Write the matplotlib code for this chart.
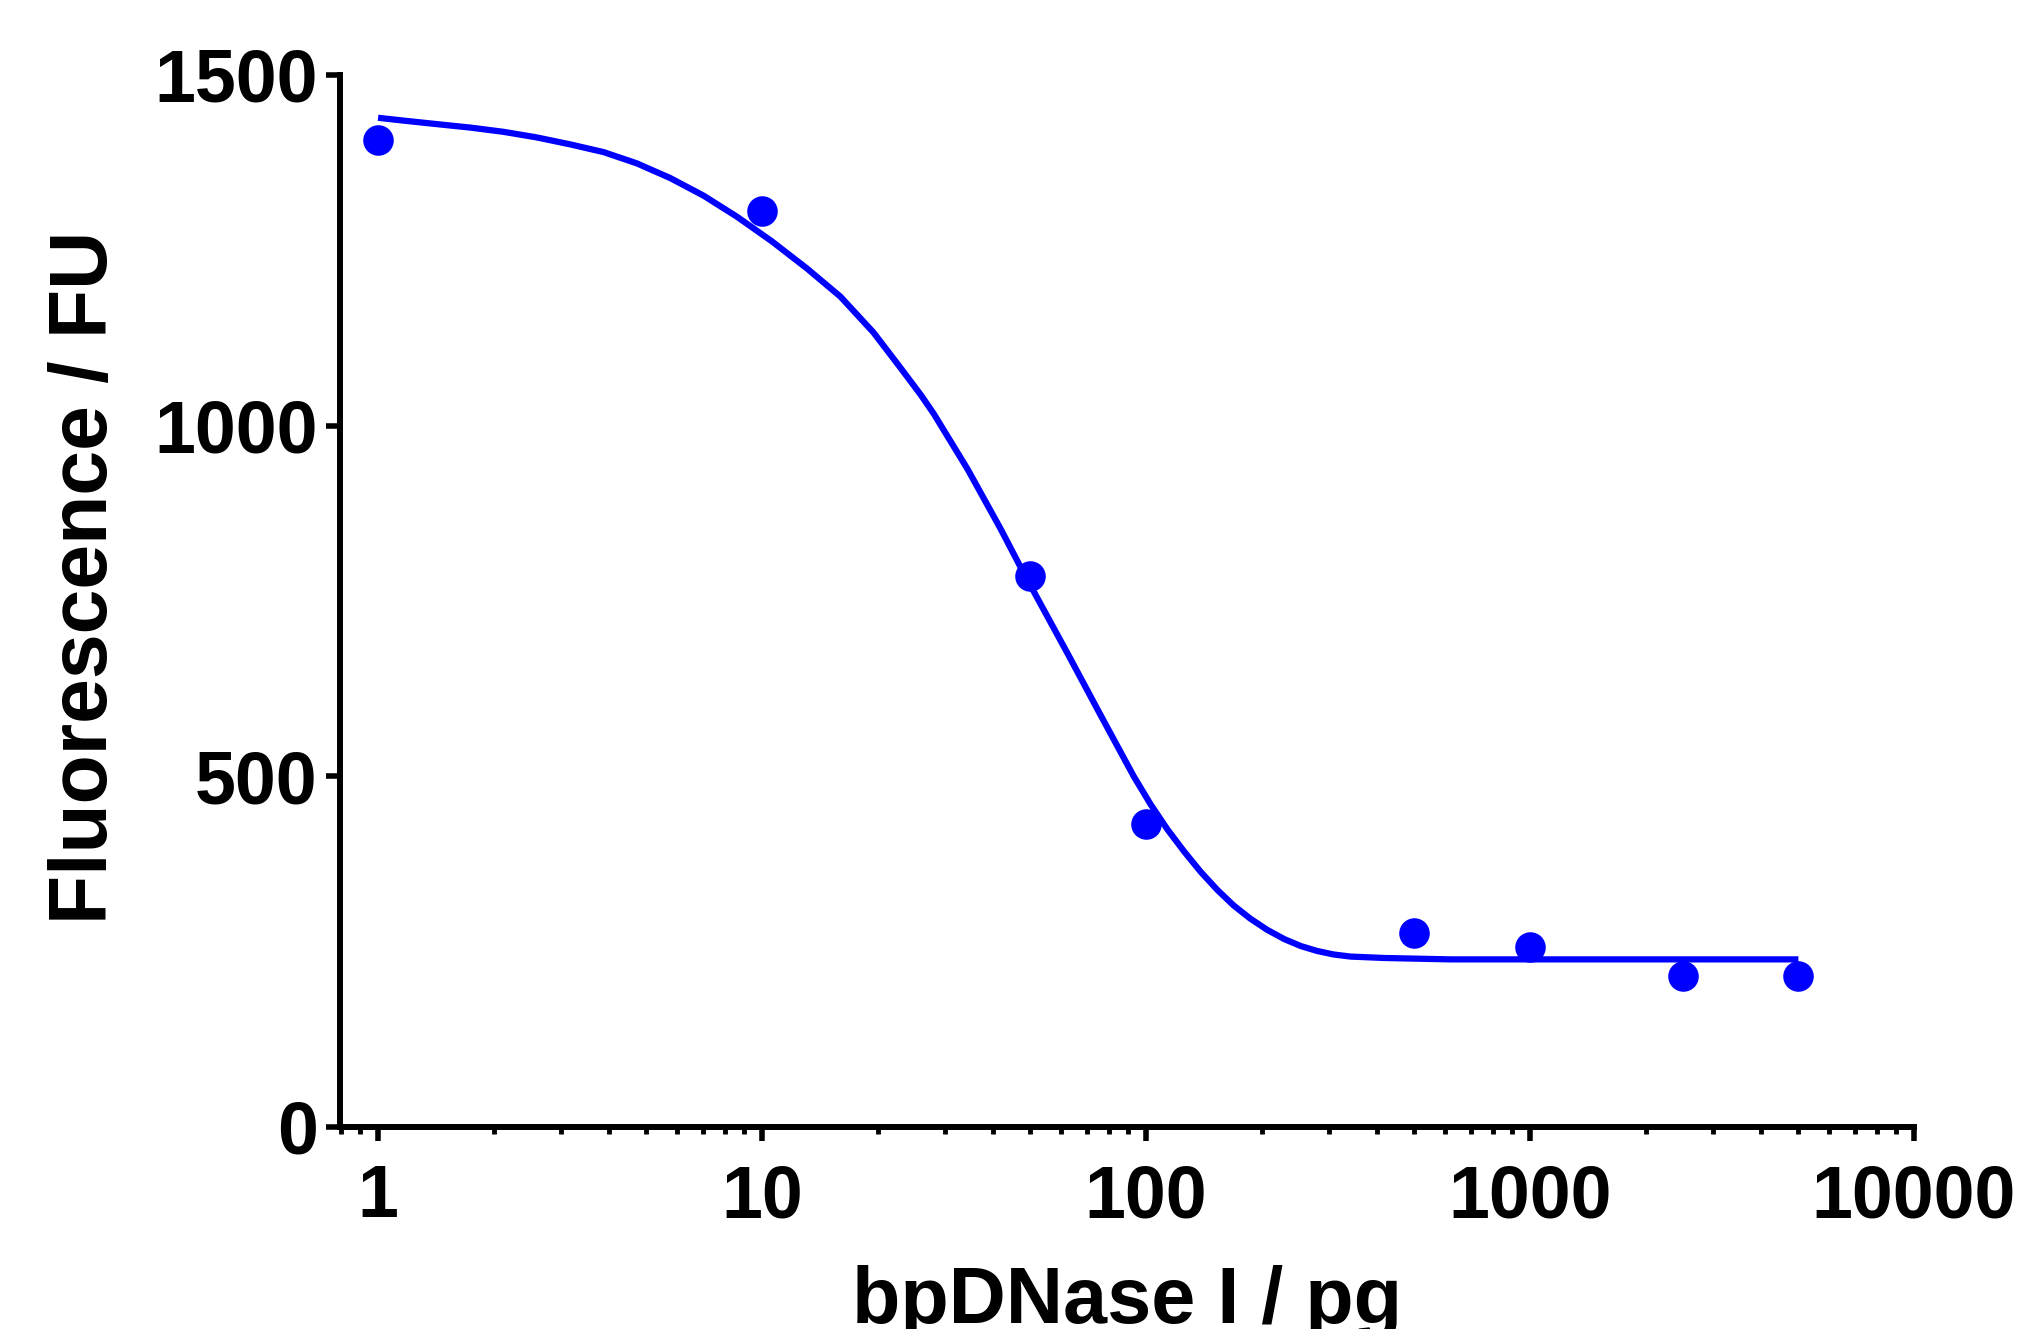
# Curva dosis-respuesta: fluorescencia frente a bpDNase I (eje x logaritmico)

import matplotlib.pyplot as plt
from matplotlib.ticker import FixedLocator, FixedFormatter, LogLocator, NullFormatter

plt.rcParams['font.family'] = ['Liberation Sans', 'DejaVu Sans']
plt.rcParams['font.weight'] = 'bold'

# puntos medidos
dose = [1, 10, 50, 100, 500, 1000, 2500, 5000]
fluor = [1408, 1306, 786, 432, 276, 256, 216, 215]

# curva ajustada
fit_x = [1, 1.164, 1.42, 1.74, 2.12, 2.59, 3.17, 3.87, 4.72, 5.77, 7.04, 8.6, 10.6,
         13.1, 16.0, 19.5, 22.9, 25.9, 28, 34.3, 41.8, 48, 62.5, 76.2, 92.9, 102.8,
         113.8, 125.6, 138.7, 153.4, 169, 187, 207, 229, 253, 279, 308, 341, 417,
         622, 1000, 2500, 5000]
fit_y = [1439, 1435, 1430, 1425, 1419, 1411, 1401, 1390, 1374, 1353, 1328, 1298, 1263,
         1224, 1184, 1133, 1083, 1044, 1017, 938, 853, 790, 675, 587, 500, 460,
         424, 393, 364, 338, 316, 297, 281, 268, 258, 251, 246, 243, 241,
         239, 239, 239, 239]

# ejes
x_ticks = [1, 10, 100, 1000, 10000]
x_labels = ['1', '10', '100', '1000', '10000']
y_ticks = [0, 500, 1000, 1500]

blue = '#0000FF'

fig = plt.figure(figsize=(20.28, 13.29), dpi=100)
ax = fig.add_axes([340/2028, 1 - 1127/1329, (1914 - 340)/2028, (1127 - 75)/1329])

ax.plot(fit_x, fit_y, color=blue, linewidth=4.5, solid_capstyle='butt',
        solid_joinstyle='round', zorder=2)
ax.plot(dose, fluor, 'o', color=blue, markersize=22, markeredgewidth=0, zorder=3)

ax.set_xscale('log')
ax.set_xlim(0.796, 10000)
ax.set_ylim(0, 1500)

ax.xaxis.set_major_locator(FixedLocator(x_ticks))
ax.xaxis.set_major_formatter(FixedFormatter(x_labels))
ax.xaxis.set_minor_locator(LogLocator(base=10, subs=range(2, 10)))
ax.xaxis.set_minor_formatter(NullFormatter())
ax.set_yticks(y_ticks)

# no mostrar marco superior / derecho
ax.spines['top'].set_visible(False)
ax.spines['right'].set_visible(False)
for s in ['left', 'bottom']:
    ax.spines[s].set_linewidth(4.3)
    ax.spines[s].set_capstyle('projecting')

ax.tick_params(axis='both', which='major', length=10, width=4, labelsize=53)
ax.tick_params(axis='x', which='minor', length=5, width=3.5)
ax.tick_params(axis='x', which='major', pad=16)
ax.tick_params(axis='y', which='major', pad=6)
for lab in ax.get_xticklabels() + ax.get_yticklabels():
    lab.set_fontweight('bold')

# titulos de ejes
fig.text(1127/2028, 1 - 1323/1329, 'bpDNase I / pg', ha='center', va='baseline',
         fontsize=57, fontweight='bold')
fig.text(86/2028, 1 - 577/1329, 'Fluorescence / FU', ha='center', va='center',
         rotation=90, fontsize=58, fontweight='bold')

plt.savefig('out.png', dpi=100)
